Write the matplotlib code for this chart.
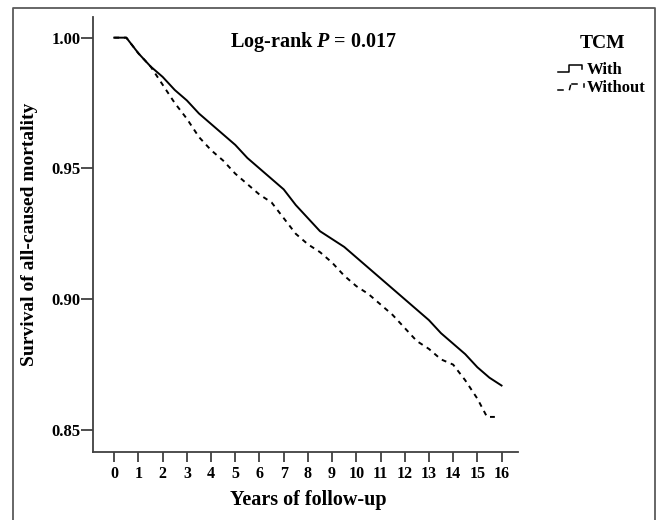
import matplotlib
matplotlib.use("Agg")
import matplotlib.pyplot as plt
from matplotlib.lines import Line2D

# ---------------------------------------------------------
# Data
# ---------------------------------------------------------
years_with = [0, 0.5, 1, 1.5, 2, 2.5, 3, 3.5, 4, 4.5, 5, 5.5, 6, 6.5, 7, 7.5, 8,
              8.5, 9, 9.5, 10, 10.5, 11, 11.5, 12, 12.5, 13, 13.5, 14, 14.5,
              15, 15.5, 16]
surv_with = [1.000, 1.000, 0.994, 0.989, 0.985, 0.980, 0.976, 0.971, 0.967,
             0.963, 0.959, 0.954, 0.950, 0.946, 0.942, 0.936, 0.931, 0.926,
             0.923, 0.920, 0.916, 0.912, 0.908, 0.904, 0.900, 0.896, 0.892,
             0.887, 0.883, 0.879, 0.874, 0.870, 0.867]

years_without = [0, 0.5, 1, 1.5, 2, 2.5, 3, 3.5, 4, 4.5, 5, 5.5, 6, 6.5, 7, 7.5,
                 8, 8.5, 9, 9.5, 10, 10.5, 11, 11.5, 12, 12.5, 13, 13.5, 14,
                 14.5, 15, 15.4, 15.8]
surv_without = [1.000, 1.000, 0.994, 0.989, 0.982, 0.975, 0.969, 0.962, 0.957,
                0.953, 0.948, 0.944, 0.940, 0.937, 0.931, 0.925, 0.921, 0.918,
                0.914, 0.909, 0.905, 0.902, 0.898, 0.894, 0.889, 0.884, 0.881,
                0.877, 0.875, 0.869, 0.862, 0.855, 0.855]

x_ticks = list(range(0, 17))
y_ticks = [0.85, 0.90, 0.95, 1.00]
y_tick_labels = ["0.85", "0.90", "0.95", "1.00"]

# ---------------------------------------------------------
# Style
# ---------------------------------------------------------
plt.rcParams['font.family'] = ['Liberation Serif', 'DejaVu Serif']
plt.rcParams['font.weight'] = 'bold'
plt.rcParams['mathtext.fontset'] = 'custom'
plt.rcParams['mathtext.rm'] = 'Liberation Serif:bold'
plt.rcParams['mathtext.it'] = 'Liberation Serif:italic:bold'

W, H = 659, 520
fig = plt.figure(figsize=(W / 100, H / 100), dpi=100)


def fx(px):
    return px / W


def fy(py):
    return 1 - py / H


# outer frame (no bottom edge)
frame_col = '#5a5a5a'
fig.add_artist(Line2D([fx(13), fx(13), fx(655), fx(655)],
                      [0, fy(8), fy(8), 0], color=frame_col, lw=1.3))

ax_l, ax_r, ax_t, ax_b = 92.7, 518, 17, 451.7
ax = fig.add_axes([fx(ax_l), fy(ax_b), (ax_r - ax_l) / W, (ax_b - ax_t) / H])

ax.plot(years_with, surv_with, color='black', lw=1.4, label='With')
ax.plot(years_without, surv_without, color='black', lw=1.4,
        dashes=(2.5, 2.5), label='Without')

ax.set_xlim(-0.89, 16.68)
ax.set_ylim(0.8417, 1.0079)

ax.set_xticks(x_ticks)
ax.set_xticklabels([str(t) for t in x_ticks])
ax.set_yticks(y_ticks)
ax.set_yticklabels(y_tick_labels)

spine_col = '#404040'
for side in ['top', 'right']:
    ax.spines[side].set_visible(False)
for side in ['left', 'bottom']:
    ax.spines[side].set_color(spine_col)
    ax.spines[side].set_linewidth(1.3)

ax.tick_params(axis='x', direction='out', length=7.2, width=1.3, color=spine_col,
               pad=3, labelsize=11.5)
ax.tick_params(axis='y', direction='out', length=8.5, width=1.3, color=spine_col,
               pad=0, labelsize=12)

ax.set_xlabel('Years of follow-up', fontsize=14.5, fontweight='bold')
ax.set_ylabel('Survival of all-caused mortality', fontsize=14, fontweight='bold')
ax.xaxis.set_label_coords(0.508, -0.088)
ax.yaxis.set_label_coords(-0.128, 0.5)

ax.text((314 - ax_l) / (ax_r - ax_l), 1 - (42 - ax_t) / (ax_b - ax_t),
        'Log-rank $P$ = 0.017', transform=ax.transAxes, ha='center',
        va='center', fontsize=14.5, fontweight='bold')

# legend drawn by hand to mimic the SPSS step glyphs
fig.text(fx(603), fy(43), 'TCM', ha='center', va='center', fontsize=14,
         fontweight='bold')
fig.add_artist(Line2D([fx(558), fx(569), fx(569), fx(582), fx(582)],
                      [fy(71.5), fy(71.5), fy(65), fy(65), fy(69)],
                      color='black', lw=1.1))
fig.text(fx(587), fy(69.5), 'With', ha='left', va='center', fontsize=12,
         fontweight='bold')
fig.add_artist(Line2D([fx(558), fx(563)], [fy(89.5), fy(89.5)], color='black', lw=1.1))
fig.add_artist(Line2D([fx(569.5), fx(570.5)], [fy(89.5), fy(85.5)], color='black', lw=1.1))
fig.add_artist(Line2D([fx(572), fx(577)], [fy(83.5), fy(83.5)], color='black', lw=1.1))
fig.add_artist(Line2D([fx(584), fx(584)], [fy(83.5), fy(87)], color='black', lw=1.1))
fig.text(fx(587), fy(88), 'Without', ha='left', va='center', fontsize=12,
         fontweight='bold')

fig.savefig('out.png', dpi=100)
